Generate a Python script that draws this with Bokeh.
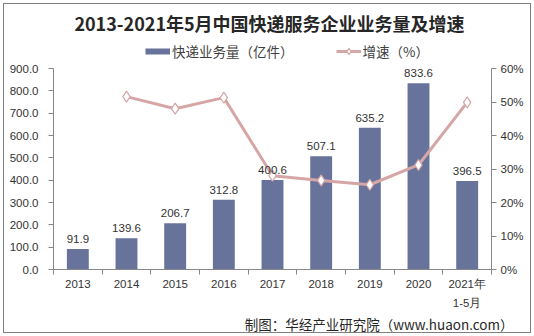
from bokeh.plotting import figure
from bokeh.models import (Range1d, LinearAxis, FixedTicker, Label, Legend, LegendItem,
                          ColumnDataSource, NumeralTickFormatter, Title, InlineStyleSheet)
from bokeh.embed import file_html
from bokeh.resources import INLINE
from bokeh.core.properties import value

# ---------------- data ----------------
years = ["2013", "2014", "2015", "2016", "2017", "2018", "2019", "2020", "2021年\n1-5月"]
volume = [91.9, 139.6, 206.7, 312.8, 400.6, 507.1, 635.2, 833.6, 396.5]
growth_years = years[1:]
growth = [51.6, 48.0, 51.3, 28.0, 26.6, 25.3, 31.2, 49.9]
left_ticks = [0, 100, 200, 300, 400, 500, 600, 700, 800, 900]
right_ticks = [0, 10, 20, 30, 40, 50, 60]

title_text = "2013-2021年5月中国快递服务企业业务量及增速"
bar_name = "快递业务量（亿件）"
line_name = "增速（%）"
source_text = "制图：华经产业研究院（www.huaon.com）"

# ---------------- style / layout ----------------
BAR = "#67739B"
LINE = "#D6A6A6"
AXIS = "#878787"
TXT = "#333333"
CJK = "Noto Sans CJK SC"
LAT = "Liberation Sans"

W, H = 534, 336
FRAME_LEFT, FRAME_RIGHT = 53, 491
AXIS_TOP, AXIS_BOTTOM = 68, 269          # pixel rows of 900 / 0
FRAME_TOP = 0                            # frame extends to top so title/legend sit inside it
frame_h = AXIS_BOTTOM - FRAME_TOP
scale = frame_h / (AXIS_BOTTOM - AXIS_TOP)
vmax, gmax = left_ticks[-1], right_ticks[-1]

pos = {y: i + 0.5 for i, y in enumerate(years)}
bx = [pos[y] for y in years]
gx = [pos[y] for y in growth_years]

bars = ColumnDataSource(dict(x=bx, v=volume, lab=[f"{v:.1f}" for v in volume]))
gsrc = ColumnDataSource(dict(x=gx, g=growth))

border_css = InlineStyleSheet(css="""
:host { position: relative; }
:host::after {
  content: ""; position: absolute; left: 3px; top: 3px; right: 3px; bottom: 3px;
  border: 1px solid #808080; pointer-events: none; z-index: 1000;
}
""")

p = figure(width=W, height=H, output_backend="svg", toolbar_location=None,
           x_range=Range1d(0, len(years)), y_range=Range1d(0, vmax * scale),
           min_border_left=FRAME_LEFT, min_border_right=W - FRAME_RIGHT,
           min_border_top=FRAME_TOP, min_border_bottom=H - AXIS_BOTTOM,
           stylesheets=[border_css])
p.extra_y_ranges = {"pct": Range1d(0, gmax * scale)}
p.outline_line_color = None
p.grid.visible = False
p.background_fill_color = "white"
p.border_fill_color = "white"

# bars
p.vbar(x="x", top="v", width=0.45, source=bars, fill_color=BAR, line_color=None)

# growth line
gl = p.line(x="x", y="g", source=gsrc, y_range_name="pct", line_color=LINE, line_width=3)
gm = p.scatter(x="x", y="g", source=gsrc, y_range_name="pct", marker="diamond", size=11,
               fill_color="white", line_color=LINE, line_width=1.2)

# bar value labels (on top of everything)
p.text(x="x", y="v", text="lab", source=bars, text_align="center", text_baseline="bottom",
       y_offset=-6, text_font=value(LAT), text_font_size="11.5px", text_color=TXT)

# axes
xa = p.xaxis[0]
xa.ticker = FixedTicker(ticks=bx, minor_ticks=list(range(len(years) + 1)))
xa.major_label_overrides = {pos[y]: y for y in years}
xa.major_tick_out = 0
xa.major_tick_in = 0
xa.minor_tick_out = 5
xa.minor_tick_in = 0
xa.minor_tick_line_color = AXIS
xa.axis_line_color = AXIS
xa.major_label_standoff = 3
xa.major_label_text_font = LAT
xa.major_label_text_font_size = "11.5px"
xa.major_label_text_color = TXT
xa.major_label_text_line_height = 1.6

ya = p.yaxis[0]
ya.ticker = FixedTicker(ticks=left_ticks)
ya.bounds = (0, vmax)
ya.formatter = NumeralTickFormatter(format="0.0")
ya.major_tick_out = 5
ya.major_tick_in = 0
ya.minor_tick_line_color = None
ya.axis_line_color = AXIS
ya.major_tick_line_color = AXIS
ya.major_label_standoff = 10
ya.major_label_text_font = LAT
ya.major_label_text_font_size = "11.5px"
ya.major_label_text_color = TXT

ra = LinearAxis(y_range_name="pct", ticker=FixedTicker(ticks=right_ticks), bounds=(0, gmax))
ra.major_label_overrides = {t: f"{t}%" for t in right_ticks}
ra.major_tick_out = 5
ra.major_tick_in = 0
ra.minor_tick_line_color = None
ra.axis_line_color = AXIS
ra.major_tick_line_color = AXIS
ra.major_label_standoff = 4
ra.major_label_text_font = LAT
ra.major_label_text_font_size = "11.5px"
ra.major_label_text_color = TXT
p.add_layout(ra, "right")

# legend (inside the extended frame, above the axes' top)
# swatch renderer for the bar series: a thick line placed outside the visible ranges
dummy_bar = p.line(x=[-10, -9], y=[-10, -10], line_color=BAR, line_width=6)
legend = Legend(items=[LegendItem(label=bar_name, renderers=[dummy_bar]),
                       LegendItem(label=line_name, renderers=[gl, gm])],
                orientation="horizontal", location=(145 - FRAME_LEFT, AXIS_BOTTOM - 61),
                border_line_color=None, background_fill_alpha=0,
                label_text_font=CJK, label_text_font_size="13.5px", label_text_color="#404040",
                glyph_width=25, glyph_height=16, spacing=42, padding=0, margin=0,
                label_standoff=2)
p.add_layout(legend, "center")

# title
p.add_layout(Label(x=269 - FRAME_LEFT, y=AXIS_BOTTOM - 22, x_units="screen", y_units="screen",
                   text=title_text, text_align="center", text_baseline="middle", text_font=CJK,
                   text_font_size="18px", text_font_style="bold", text_color="#262626"))

# source note below the axis
p.add_layout(Title(text=source_text, align="right", offset=-22, text_font=CJK,
                   text_font_size="13.5px", text_font_style="normal", text_color="#262626",
                   standoff=0), "below")

open("out.html", "w").write(file_html(p, INLINE))
